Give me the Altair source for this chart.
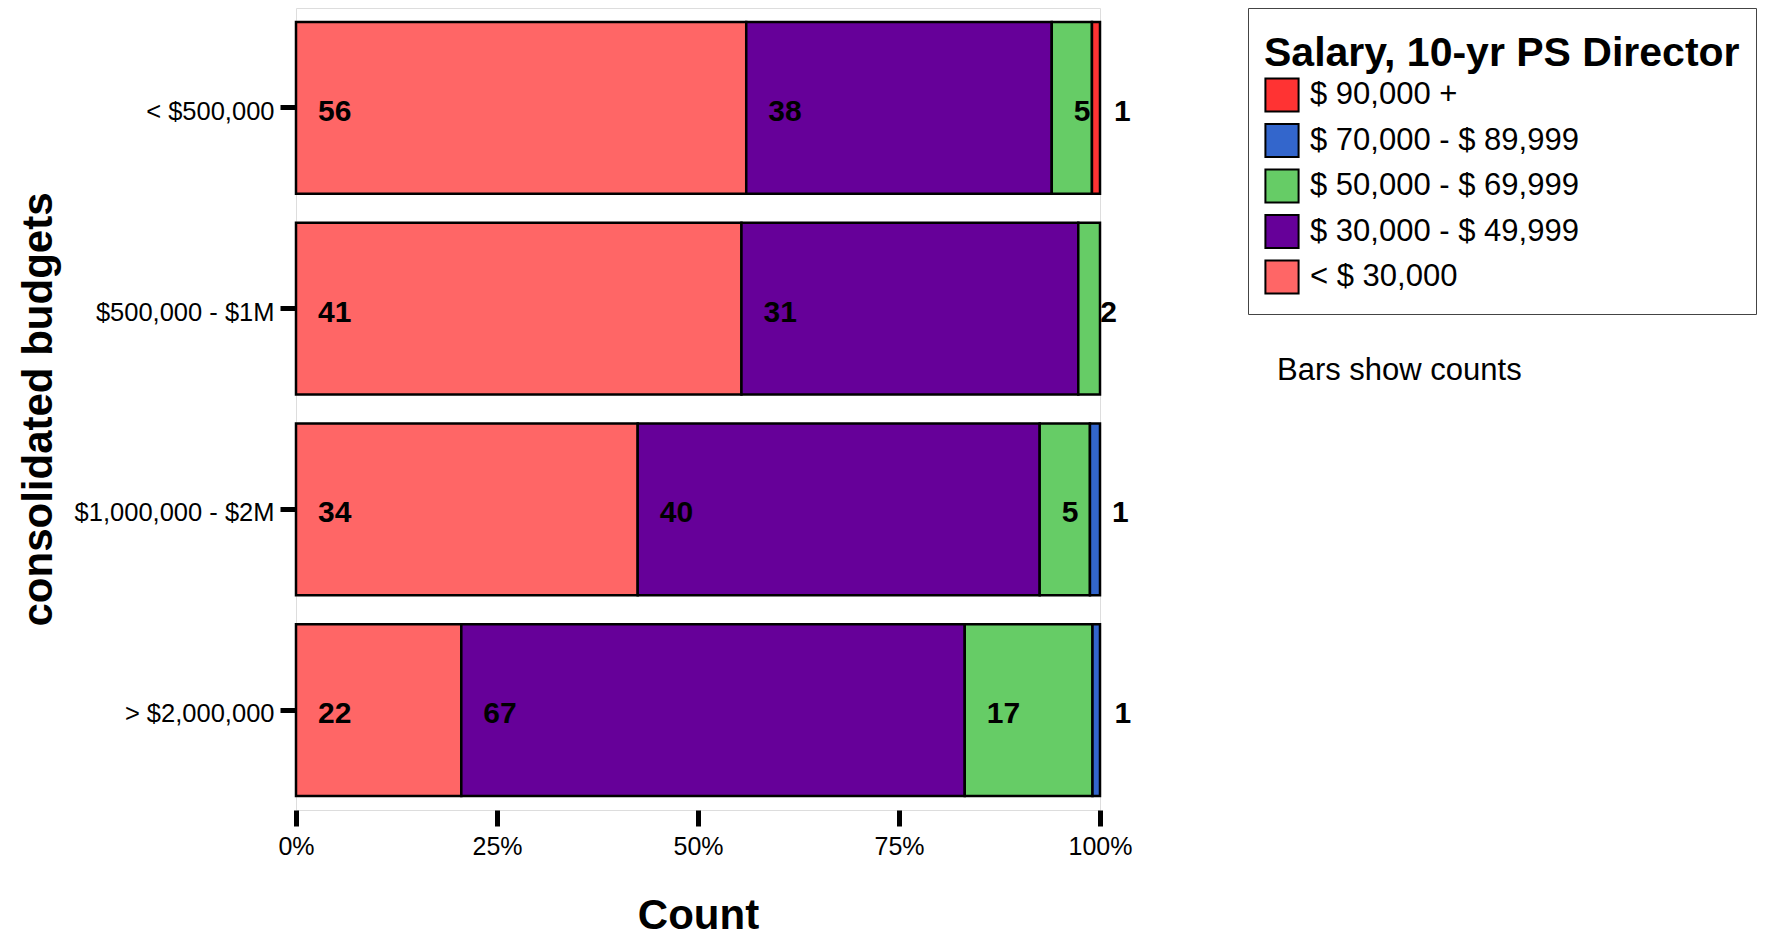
import altair as alt
import pandas as pd

budgets = ["< $500,000", "$500,000 - $1M", "$1,000,000 - $2M", "> $2,000,000"]
salary_stack = ["< $ 30,000", "$ 30,000 - $ 49,999", "$ 50,000 - $ 69,999",
                "$ 70,000 - $ 89,999", "$ 90,000 +"]
colors_stack = ["#FF6666", "#660099", "#66CC66", "#3366CC", "#FF3333"]

lt30 = [56, 41, 34, 22]
s30_49 = [38, 31, 40, 67]
s50_69 = [5, 2, 5, 17]
s70_89 = [0, 0, 1, 1]
s90p = [1, 0, 0, 0]

note_text = "Bars show counts"

series = [lt30, s30_49, s50_69, s70_89, s90p]
rows = []
for si, (sal, vals) in enumerate(zip(salary_stack, series)):
    for b, v in zip(budgets, vals):
        if v > 0:
            rows.append({"budget": b, "salary": sal, "order": si, "count": v})
df = pd.DataFrame(rows)

legend_order = salary_stack[::-1]
legend_colors = colors_stack[::-1]

FONT = "Liberation Sans"

base = alt.Chart(df).transform_stack(
    stack="count",
    groupby=["budget"],
    sort=[alt.SortField("order", order="ascending")],
    as_=["x0", "x1"],
    offset="normalize",
)

y_enc = alt.Y(
    "budget:N",
    sort=budgets,
    scale=alt.Scale(paddingInner=0.145, paddingOuter=0.07),
    axis=alt.Axis(
        title="consolidated budgets",
        titleFontSize=42,
        titleFontWeight="bold",
        titleFont=FONT,
        titleColor="black",
        titlePadding=36,
        labelFontSize=25.5,
        labelFont=FONT,
        labelColor="black",
        labelPadding=6,
        labelLimit=1000,
        labelOffset=4,
        tickSize=16,
        tickWidth=5,
        tickColor="black",
        domain=False,
        grid=False,
    ),
)

bars = base.mark_bar(stroke="black", strokeWidth=2.5, opacity=1).encode(
    x=alt.X(
        "x0:Q",
        scale=alt.Scale(domain=[0, 1], nice=False, zero=True),
        axis=alt.Axis(
            title="Count",
            titleFontSize=42,
            titleFontWeight="bold",
            titleFont=FONT,
            titleColor="black",
            titlePadding=36,
            values=[0, 0.25, 0.5, 0.75, 1],
            format=".0%",
            labelFontSize=25,
            labelFont=FONT,
            labelColor="black",
            labelPadding=8,
            labelFlush=False,
            tickSize=16,
            tickWidth=5,
            tickColor="black",
            domain=False,
            grid=False,
        ),
    ),
    x2="x1:Q",
    y=y_enc,
    color=alt.Color(
        "salary:N",
        scale=alt.Scale(domain=legend_order, range=legend_colors),
        sort=legend_order,
        legend=alt.Legend(
            title="Salary, 10-yr PS Director",
            orient="none",
            legendX=952,
            legendY=0,
            titleFontSize=41,
            titleFontWeight="bold",
            titleFont=FONT,
            titleColor="black",
            titleLimit=2000,
            titleBaseline="line-top",
            titleLineHeight=60,
            titlePadding=12,
            labelFontSize=31,
            labelFont=FONT,
            labelColor="black",
            labelLimit=2000,
            labelOffset=10,
            symbolType="square",
            symbolSize=1100,
            symbolStrokeColor="black",
            symbolStrokeWidth=2,
            symbolOpacity=1,
            rowPadding=3.5,
            padding=16,
            strokeColor="#444444",
            fillColor="white",
        ),
    ),
)

labels = base.mark_text(
    align="left", baseline="middle", dx=22, dy=4, fontSize=30, fontWeight="bold",
    font=FONT, color="black",
).encode(
    x="x0:Q",
    y=alt.Y("budget:N", sort=budgets),
    text="count:Q",
)

note = alt.Chart(pd.DataFrame({"note": [note_text]})).mark_text(
    align="left", baseline="middle", fontSize=31, font=FONT, color="black"
).encode(
    x=alt.value(981),
    y=alt.value(363),
    text="note:N",
)

chart = alt.layer(bars, labels, note).properties(
    width=804,
    height=802,
    padding={"left": 288, "top": 0, "right": 657, "bottom": 125},
    autosize=alt.AutoSizeParams(type="none"),
).configure_view(
    stroke="#888888", strokeWidth=1
).configure_legend(
    strokeWidth=2
).configure(background="white")

chart.save("out.html", embed_options={"renderer": "svg", "actions": False})
